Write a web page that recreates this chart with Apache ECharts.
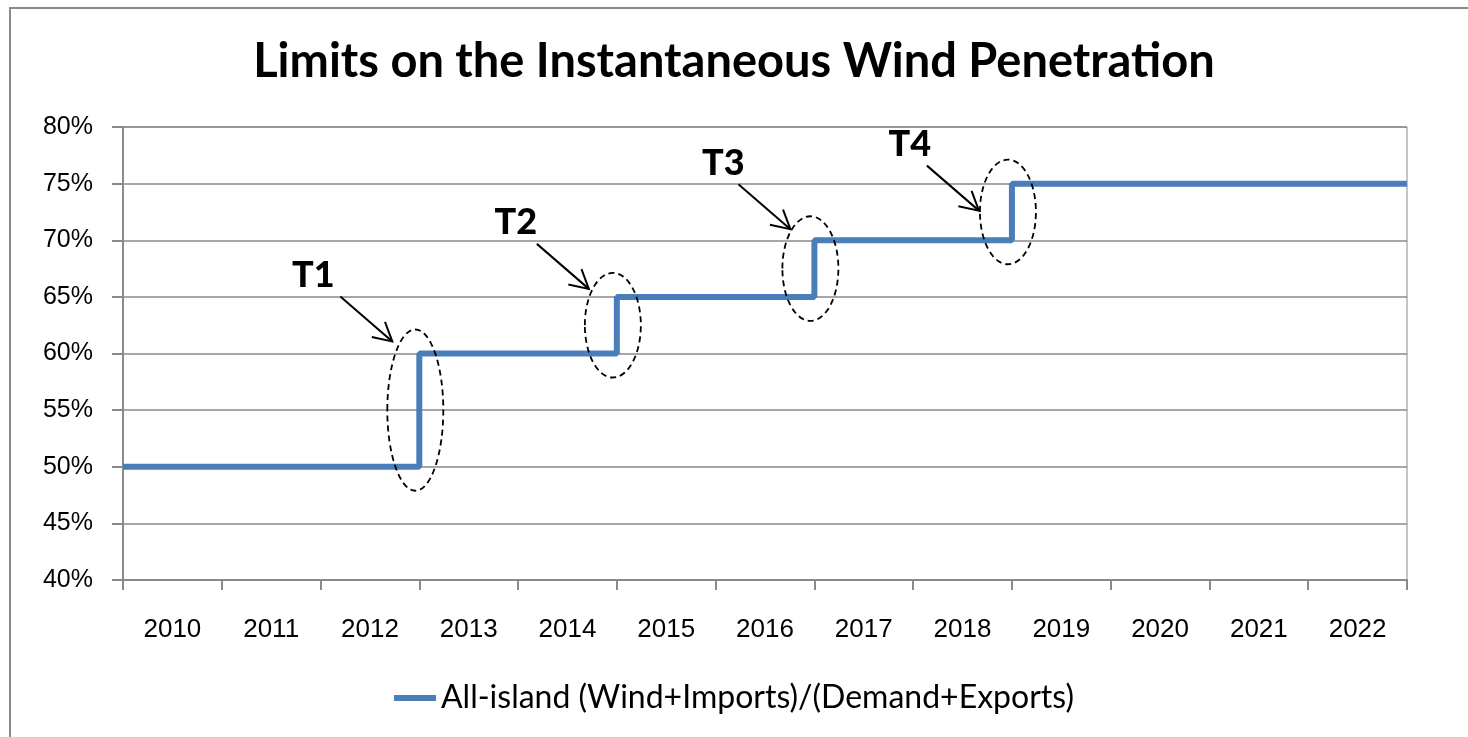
<!DOCTYPE html>
<html>
<head>
<meta charset="utf-8">
<script src="https://cdn.jsdelivr.net/npm/echarts@6/dist/echarts.min.js"></script>
<style>
  html, body { margin: 0; padding: 0; background: #fff; }
  #main { width: 1468px; height: 737px; }
</style>
</head>
<body>
<div id="main"></div>
<script>
// years on the category axis
var years = ['2010', '2011', '2012', '2013', '2014', '2015', '2016', '2017', '2018', '2019', '2020', '2021', '2022']
// limit in force during each year (%)
var limits = [50, 50, 50, 60, 60, 65, 65, 70, 70, 75, 75, 75, 75]
var seriesName = 'All-island (Wind+Imports)/(Demand+Exports)'
var stepNames = ['T1', 'T2', 'T3', 'T4']

// annotation layout tweaks (pixels)
var arrowDx = [-27, -28, -24, -33]
var arrowDy = [-12, -8, -11, 27]
var labelDx = [-27, -21, -15, -17]

// step points on a hidden value axis: year i spans [i, i+1]
var stepData = limits.map(function (v, i) { return [i, v] })
stepData.push([years.length, limits[limits.length - 1]])

var chart = echarts.init(document.getElementById('main'))
var gray = '#8a8a8a'

chart.setOption({
    backgroundColor: '#fff',
    animation: false,
    title: {
        text: 'Limits on the Instantaneous Wind Penetration',
        left: 'center',
        top: 33,
        textStyle: { fontFamily: 'Lato', fontWeight: 'bold', fontSize: 47, color: '#000' }
    },
    legend: {
        data: [seriesName],
        left: 'center',
        top: 677,
        icon: 'rect',
        itemWidth: 42,
        itemHeight: 6,
        textStyle: { fontFamily: 'Lato', fontSize: 32, color: '#000' }
    },
    grid: {
        show: true,
        left: 123,
        right: 61,
        top: 127,
        bottom: 157,
        borderColor: gray,
        borderWidth: 1
    },
    xAxis: [
        {
            type: 'category',
            data: years,
            boundaryGap: true,
            axisLine: { show: true, lineStyle: { color: gray, width: 2 } },
            axisTick: { show: true, length: 10, lineStyle: { color: gray, width: 2 } },
            axisLabel: { margin: 37, fontFamily: 'Liberation Sans', fontSize: 26, color: '#000' }
        },
        {
            type: 'value',
            min: 0,
            max: years.length,
            show: false
        }
    ],
    yAxis: {
        type: 'value',
        min: 40,
        max: 80,
        interval: 5,
        axisLine: { show: true, lineStyle: { color: gray, width: 2 } },
        axisTick: { show: true, length: 11, lineStyle: { color: gray, width: 2 } },
        axisLabel: { margin: 30, fontFamily: 'Liberation Sans', fontSize: 25, color: '#000', formatter: '{value}%' },
        splitLine: { lineStyle: { color: gray, width: 1.5 } }
    },
    series: [
        {
            name: seriesName,
            type: 'line',
            xAxisIndex: 1,
            step: 'end',
            symbol: 'none',
            data: stepData,
            itemStyle: { color: '#4a7ebb' },
            lineStyle: { color: '#4a7ebb', width: 6 },
            z: 3
        }
    ]
})

// dashed ellipses, arrows and T labels at each step
function drawNotes() {
    var els = [{
        type: 'rect',
        shape: { x: 10, y: 8, width: 1500, height: 800 },
        style: { fill: 'none', stroke: gray, lineWidth: 2 },
        silent: true,
        z: 0
    }]
    var k = 0
    for (var i = 1; i < limits.length; i++) {
        if (limits[i] === limits[i - 1]) continue
        var hi = chart.convertToPixel({ xAxisIndex: 1, yAxisIndex: 0 }, [i, limits[i]])
        var lo = chart.convertToPixel({ xAxisIndex: 1, yAxisIndex: 0 }, [i, limits[i - 1]])
        var cx = hi[0] - 4
        var cy = (hi[1] + lo[1]) / 2
        var ry = (lo[1] - hi[1]) / 2 + 24
        els.push({
            type: 'ellipse',
            shape: { cx: cx, cy: cy, rx: 28, ry: ry },
            style: { fill: 'none', stroke: '#000', lineWidth: 1.8, lineDash: [6, 4] },
            z: 10
        })
        var ex = hi[0] + arrowDx[k], ey = hi[1] + arrowDy[k]
        var sx = ex - 52, sy = ey - 45
        var ang = Math.atan2(ey - sy, ex - sx)
        var hl = 21, ha = 0.5
        els.push({
            type: 'line',
            shape: { x1: sx, y1: sy, x2: ex, y2: ey },
            style: { stroke: '#000', lineWidth: 2 },
            z: 10
        })
        els.push({
            type: 'polyline',
            shape: { points: [
                [ex - hl * Math.cos(ang - ha), ey - hl * Math.sin(ang - ha)],
                [ex, ey],
                [ex - hl * Math.cos(ang + ha), ey - hl * Math.sin(ang + ha)]
            ] },
            style: { stroke: '#000', lineWidth: 2, fill: 'none' },
            z: 10
        })
        els.push({
            type: 'text',
            x: sx + labelDx[k],
            y: sy - 21,
            style: {
                text: stepNames[k],
                fontFamily: 'Lato',
                fontWeight: 900,
                fontSize: 36,
                fill: '#000',
                align: 'center',
                verticalAlign: 'middle'
            },
            z: 10
        })
        k++
    }
    chart.setOption({ graphic: els })
}
drawNotes()
</script>
</body>
</html>
